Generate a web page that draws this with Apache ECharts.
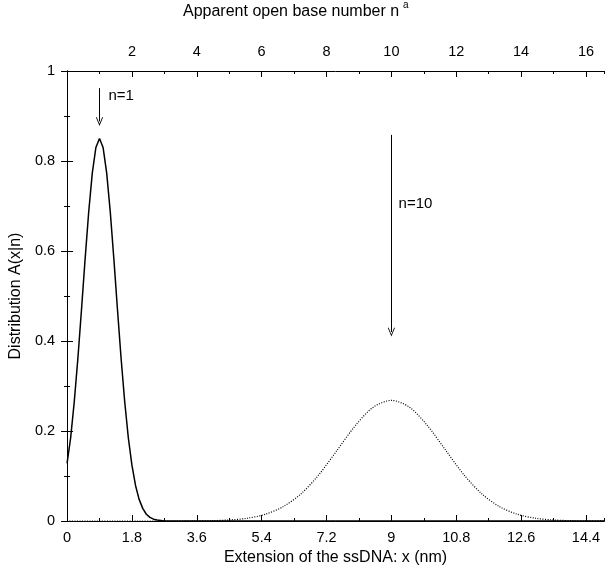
<!DOCTYPE html>
<html><head><meta charset="utf-8">
<script src="https://cdn.jsdelivr.net/npm/echarts@6/dist/echarts.min.js"></script>
<style>html,body{margin:0;padding:0;background:#fff}#c{width:605px;height:571px}</style>
</head><body><div id="c"></div>
<script>
// n = 1 distribution (solid)
const xN1 = [0,0.1,0.2,0.3,0.4,0.5,0.6,0.7,0.8,0.9,1.0,1.1,1.2,1.3,1.4,1.5,1.6,1.7,1.8,1.9,2.0,2.1,2.2,2.3,2.4,2.5,2.6,2.7,3.0,6.0,9.0,12.0,15.0];
const yN1 = [0.128,0.185,0.265,0.361,0.469,0.581,0.686,0.773,0.830,0.850,0.830,0.773,0.686,0.581,0.469,0.361,0.265,0.185,0.124,0.079,0.048,0.028,0.015,0.008,0.004,0.002,0.001,0,0,0,0,0,0];
// n = 10 distribution (dotted)
const xN10 = [0,3,3.5,4,4.5,5,5.5,6,6.5,7,7.5,8,8.5,9,9.5,10,10.5,11,11.5,12,12.5,13,13.5,14,14.5,15];
const yN10 = [0,0,0.0002,0.0007,0.0023,0.0061,0.0149,0.032,0.061,0.104,0.158,0.212,0.253,0.268,0.253,0.212,0.158,0.104,0.061,0.032,0.0149,0.0061,0.0023,0.0007,0.0002,0];
// annotations
const arrowX = [0.9, 9.0];
const arrowYStart = [0.962, 0.858];
const arrowYEnd = [0.888, 0.42];
const annText = ['n=1', 'n=10'];
const annX = [1.15, 9.2];
const annY = [0.944, 0.704];
// axes
const X_MIN = 0, X_MAX = 14.9, X_STEP = 1.8;
const NM_PER_BASE = 0.9, N_STEP = 2;
const Y_MIN = 0, Y_MAX = 1, Y_STEP = 0.2;

const font = 'Liberation Sans, Arial, Helvetica, sans-serif';
const black = '#000';
const chart = echarts.init(document.getElementById('c'), null, {renderer: 'canvas'});

function xAx(pos, max, interval, labels, tickLen, showLine) {
  return {
    type: 'value', position: pos, min: 0, max: max, interval: interval,
    axisLine: {show: showLine, onZero: false, lineStyle: {color: black, width: 1}},
    axisTick: {show: true, inside: true, length: tickLen, lineStyle: {color: black, width: 1}},
    axisLabel: {show: labels, color: black, fontFamily: font, fontSize: 14.5,
      margin: pos === 'bottom' ? 9 : 12, showMinLabel: pos === 'bottom', showMaxLabel: false},
    splitLine: {show: false}
  };
}

const option = {
  animation: false,
  backgroundColor: '#fff',
  grid: {left: 66, right: 1, top: 71, bottom: 49, containLabel: false},
  xAxis: [
    Object.assign(xAx('bottom', X_MAX, X_STEP, true, 6, true), {
      name: 'Extension of the ssDNA: x (nm)', nameLocation: 'middle', nameGap: 29,
      nameTextStyle: {color: black, fontFamily: font, fontSize: 16}
    }),
    xAx('bottom', X_MAX, X_STEP / 2, false, 3, false),
    xAx('top', X_MAX / NM_PER_BASE, N_STEP, true, 6, true),
    xAx('top', X_MAX / NM_PER_BASE, N_STEP / 2, false, 3, false)
  ],
  yAxis: [
    {
      type: 'value', position: 'left', min: Y_MIN, max: Y_MAX, interval: Y_STEP,
      name: 'Distribution A(x|n)', nameLocation: 'middle', nameGap: 43,
      nameTextStyle: {color: black, fontFamily: font, fontSize: 16},
      axisLine: {show: true, lineStyle: {color: black, width: 1}},
      axisTick: {show: true, inside: true, length: 6, lineStyle: {color: black}},
      minorTick: {show: true, splitNumber: 2, length: 3, lineStyle: {color: black}},
      axisLabel: {color: black, fontFamily: font, fontSize: 14.5, margin: 12},
      splitLine: {show: false}
    },
    {
      type: 'value', position: 'right', min: Y_MIN, max: Y_MAX, interval: Y_STEP,
      axisLine: {show: true, lineStyle: {color: black, width: 1}},
      axisTick: {show: true, inside: true, length: 6, lineStyle: {color: black}},
      minorTick: {show: true, splitNumber: 2, length: 3, lineStyle: {color: black}},
      axisLabel: {show: false},
      splitLine: {show: false}
    }
  ],
  graphic: [
    {type: 'text', left: 183, top: 4, style: {text: 'Apparent open base number n', font: '16px ' + font, fill: black}},
    {type: 'text', left: 403, top: 0, style: {text: 'a', font: '10px ' + font, fill: black}}
  ],
  series: [
    {
      type: 'line', xAxisIndex: 0, yAxisIndex: 0, symbol: 'none', silent: true,
      data: xN1.map((x, i) => [x, yN1[i]]),
      lineStyle: {color: black, width: 1.5},
      markLine: {
        silent: true, animation: false,
        symbol: ['none', 'path://M5,0 L10,9 L9,9.6 L5,2.2 L1,9.6 L0,9 Z'],
        symbolSize: [7, 9],
        label: {show: false},
        lineStyle: {color: black, width: 1, type: 'solid'},
        data: arrowX.map((x, i) => [{coord: [x, arrowYStart[i]]}, {coord: [x, arrowYEnd[i]]}])
      }
    },
    {
      type: 'line', xAxisIndex: 0, yAxisIndex: 0, symbol: 'none', silent: true, smooth: 0.3,
      data: xN10.map((x, i) => [x, yN10[i]]),
      lineStyle: {color: black, width: 1.2, type: [1, 1.5]}
    },
    {
      type: 'scatter', xAxisIndex: 0, yAxisIndex: 0, symbolSize: 0, silent: true,
      itemStyle: {color: black, opacity: 1},
      data: annX.map((x, i) => ({value: [x, annY[i]], name: annText[i]})),
      label: {show: true, position: 'right', distance: 0, formatter: p => p.name,
        color: black, opacity: 1, textBorderWidth: 0, fontFamily: font, fontSize: 15}
    }
  ]
};
chart.setOption(option);
</script></body></html>
